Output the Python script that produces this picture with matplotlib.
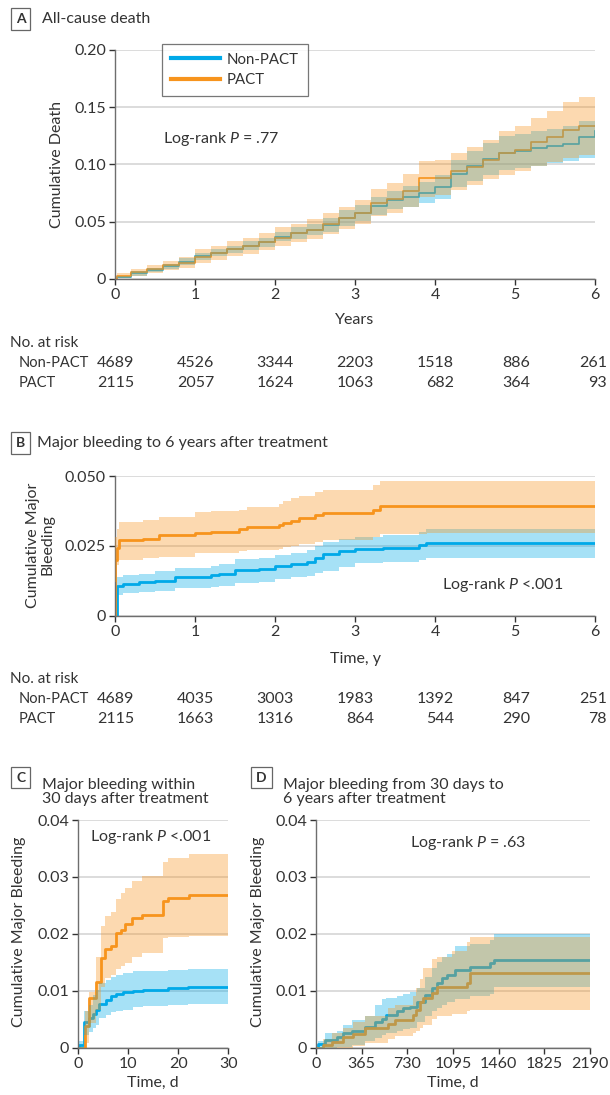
import matplotlib.pyplot as plt
import numpy as np

plt.rcParams['font.family'] = ['Lato', 'DejaVu Sans']
plt.rcParams['mathtext.fontset'] = 'custom'
plt.rcParams['mathtext.rm'] = 'Lato'
plt.rcParams['mathtext.it'] = 'Lato:italic'

W, H = 610, 1095
BLUE = '#00a9e8'
ORANGE = '#f7941d'
TXT = '#333333'
SPINE = '#6e6e6e'
FS = 11.5

# ---- Panel A: all-cause death (years) ----
years_a = [0, 0.02, 0.2, 0.4, 0.6, 0.8, 1.0, 1.2, 1.4, 1.6, 1.8, 2.0, 2.2, 2.4, 2.6, 2.8,
           3.0, 3.2, 3.4, 3.6, 3.8, 4.0, 4.2, 4.4, 4.6, 4.8, 5.0, 5.2, 5.4, 5.6, 5.8, 6.0]
a_np = [0, 0.002, 0.005, 0.008, 0.011, 0.015, 0.020, 0.023, 0.026, 0.029, 0.032, 0.037, 0.040, 0.043, 0.047, 0.053,
        0.058, 0.064, 0.069, 0.072, 0.075, 0.080, 0.092, 0.099, 0.105, 0.110, 0.112, 0.114, 0.116, 0.118, 0.124, 0.129]
a_np_lo = [0, 0.001, 0.003, 0.006, 0.009, 0.012, 0.017, 0.020, 0.023, 0.025, 0.028, 0.033, 0.035, 0.038, 0.041, 0.046,
           0.051, 0.056, 0.061, 0.063, 0.066, 0.070, 0.080, 0.086, 0.091, 0.095, 0.097, 0.099, 0.101, 0.103, 0.106, 0.110]
a_np_hi = [0, 0.003, 0.007, 0.010, 0.013, 0.018, 0.023, 0.026, 0.029, 0.033, 0.036, 0.041, 0.045, 0.048, 0.053, 0.060,
           0.065, 0.072, 0.077, 0.081, 0.085, 0.091, 0.104, 0.112, 0.119, 0.125, 0.127, 0.129, 0.131, 0.134, 0.138, 0.148]
a_pa = [0, 0.003, 0.006, 0.009, 0.012, 0.014, 0.019, 0.023, 0.026, 0.029, 0.032, 0.036, 0.040, 0.043, 0.048, 0.053,
        0.058, 0.066, 0.070, 0.077, 0.088, 0.088, 0.094, 0.098, 0.104, 0.110, 0.113, 0.120, 0.124, 0.130, 0.134, 0.134]
a_pa_lo = [0, 0.001, 0.003, 0.005, 0.008, 0.010, 0.014, 0.017, 0.020, 0.022, 0.025, 0.029, 0.032, 0.035, 0.039, 0.044,
           0.048, 0.055, 0.058, 0.063, 0.072, 0.073, 0.078, 0.082, 0.087, 0.091, 0.094, 0.099, 0.102, 0.106, 0.108, 0.107]
a_pa_hi = [0, 0.005, 0.009, 0.012, 0.016, 0.019, 0.026, 0.029, 0.033, 0.036, 0.040, 0.045, 0.048, 0.052, 0.058, 0.063,
           0.069, 0.079, 0.084, 0.092, 0.103, 0.104, 0.110, 0.115, 0.121, 0.129, 0.134, 0.141, 0.147, 0.155, 0.159, 0.159]
risk_a_np = [4689, 4526, 3344, 2203, 1518, 886, 261]
risk_a_pa = [2115, 2057, 1624, 1063, 682, 364, 93]

# ---- Panel B: major bleeding to 6 years ----
years_b_np = [0, 0.02, 0.1, 0.3, 0.5, 0.75, 1.2, 1.3, 1.5, 1.8, 2.0, 2.2, 2.4, 2.5, 2.6, 2.8, 3.0, 3.35, 3.8, 3.89, 6.0]
b_np = [0, 0.0106, 0.0115, 0.012, 0.0125, 0.014, 0.0145, 0.015, 0.0165, 0.0168, 0.0177, 0.0185, 0.0193, 0.0205,
        0.022, 0.023, 0.0237, 0.0244, 0.0252, 0.026, 0.026]
b_np_lo = [0, 0.0075, 0.008, 0.0085, 0.009, 0.0098, 0.0102, 0.0107, 0.0118, 0.012, 0.013, 0.0137, 0.0143, 0.0152,
           0.016, 0.0175, 0.0187, 0.0192, 0.0198, 0.0205, 0.0205]
b_np_hi = [0, 0.0138, 0.0145, 0.015, 0.016, 0.0172, 0.0178, 0.0185, 0.0203, 0.0207, 0.0217, 0.0225, 0.0235, 0.025,
           0.0264, 0.0275, 0.028, 0.0288, 0.0298, 0.0312, 0.0312]
years_b_pa = [0, 0.005, 0.02, 0.05, 0.35, 0.55, 1.0, 1.2, 1.55, 1.65, 2.05, 2.1, 2.2, 2.3, 2.5, 2.6, 3.23, 3.31, 3.9, 6.0]
b_pa = [0, 0.02, 0.0244, 0.027, 0.0276, 0.0288, 0.0296, 0.030, 0.031, 0.0318, 0.0326, 0.0333, 0.034, 0.035,
        0.036, 0.0368, 0.0377, 0.0393, 0.0393, 0.0393]
b_pa_lo = [0, 0.012, 0.018, 0.020, 0.0205, 0.021, 0.0223, 0.0225, 0.0233, 0.0235, 0.024, 0.0245, 0.0249, 0.0255,
           0.0264, 0.027, 0.028, 0.0293, 0.0296, 0.0296]
b_pa_hi = [0, 0.028, 0.031, 0.0336, 0.0344, 0.0354, 0.0371, 0.0373, 0.0377, 0.039, 0.040, 0.041, 0.042, 0.043,
           0.0443, 0.045, 0.0467, 0.0482, 0.0482, 0.0482]
risk_b_np = [4689, 4035, 3003, 1983, 1392, 847, 251]
risk_b_pa = [2115, 1663, 1316, 864, 544, 290, 78]

# ---- Panel C: within 30 days ----
days_c_np = [0, 0.2, 1.13, 2.2, 3.0, 3.5, 4.2, 5.5, 6.5, 7.5, 9.0, 11.0, 13.0, 18.0, 22.0, 30.0]
c_np = [0, 0.0004, 0.0046, 0.0053, 0.006, 0.0066, 0.0076, 0.0083, 0.009, 0.0094, 0.0097, 0.0100, 0.0101,
        0.0104, 0.0107, 0.0107]
c_np_lo = [0, 0, 0.0022, 0.0028, 0.0034, 0.0040, 0.0052, 0.0057, 0.0063, 0.0065, 0.0067, 0.0072, 0.0073,
           0.0075, 0.0077, 0.0077]
c_np_hi = [0, 0.0012, 0.0065, 0.0075, 0.0092, 0.0101, 0.0113, 0.0119, 0.0125, 0.0128, 0.0131, 0.0134, 0.0135,
           0.0137, 0.0138, 0.0138]
days_c_pa = [0, 1.33, 2.2, 3.47, 4.47, 5.33, 6.53, 7.53, 8.47, 9.33, 10.67, 12.67, 16.87, 17.87, 22.2, 30.0]
c_pa = [0, 0.0038, 0.0087, 0.0115, 0.0158, 0.0174, 0.0179, 0.0201, 0.0207, 0.0217, 0.0228, 0.0233, 0.0257,
        0.0263, 0.0269, 0.0269]
c_pa_lo = [0, 0.0008, 0.0043, 0.0066, 0.0107, 0.0122, 0.0128, 0.0138, 0.0143, 0.0148, 0.0160, 0.0167, 0.0192,
           0.0194, 0.0196, 0.0196]
c_pa_hi = [0, 0.0065, 0.0098, 0.0160, 0.0214, 0.0232, 0.0238, 0.0261, 0.0272, 0.0280, 0.0292, 0.0301, 0.0327,
           0.0333, 0.0340, 0.0340]

# ---- Panel D: 30 days to 6 years ----
days_d_np = [0, 16, 72, 165, 218, 285, 392, 472, 525, 560, 645, 698, 751, 805, 871, 925, 965, 1004, 1044,
             1111, 1231, 1391, 1425, 2190]
d_np = [0, 0.0007, 0.0013, 0.0018, 0.0025, 0.0030, 0.0036, 0.0045, 0.0051, 0.0057, 0.0064, 0.0069, 0.0072,
        0.0081, 0.0092, 0.0104, 0.0114, 0.0122, 0.0128, 0.0136, 0.0141, 0.0148, 0.0154, 0.0154]
d_np_lo = [0, 0, 0, 0.0001, 0.0002, 0.0005, 0.0012, 0.0017, 0.0022, 0.0025, 0.0030, 0.0033, 0.0035, 0.0045,
           0.0055, 0.0065, 0.0070, 0.0075, 0.0080, 0.0085, 0.0090, 0.0095, 0.0107, 0.0107]
d_np_hi = [0, 0.0012, 0.0025, 0.0030, 0.0040, 0.0048, 0.0055, 0.0075, 0.0085, 0.0088, 0.0090, 0.0095, 0.0098,
           0.0105, 0.0125, 0.0140, 0.0150, 0.0160, 0.0165, 0.0178, 0.0183, 0.0190, 0.0200, 0.0200]
days_d_pa = [0, 59, 125, 218, 298, 392, 578, 631, 778, 800, 831, 858, 925, 965, 1091, 1204, 1231, 2190]
d_pa = [0, 0.0005, 0.0010, 0.0019, 0.0024, 0.0035, 0.0042, 0.0049, 0.0057, 0.0066, 0.0081, 0.0088, 0.0096,
        0.0106, 0.0106, 0.0114, 0.0132, 0.0132]
d_pa_lo = [0, 0, 0, 0, 0.0003, 0.0008, 0.0015, 0.0020, 0.0025, 0.0030, 0.0035, 0.0040, 0.0050, 0.0055,
           0.0060, 0.0065, 0.0067, 0.0067]
d_pa_hi = [0, 0.0015, 0.0025, 0.0035, 0.0045, 0.0055, 0.0070, 0.0075, 0.0090, 0.0105, 0.0120, 0.0140, 0.0155,
           0.0160, 0.0170, 0.0185, 0.0195, 0.0195]

fig = plt.figure(figsize=(W / 100, H / 100), dpi=100)


def fx(x):
    return x / W


def fy(y):
    return 1 - y / H


def make_ax(x0, y0, x1, y1):
    ax = fig.add_axes([fx(x0), fy(y1), (x1 - x0) / W, (y1 - y0) / H])
    for s in ['top', 'right']:
        ax.spines[s].set_visible(False)
    for s in ['left', 'bottom']:
        ax.spines[s].set_color(SPINE)
        ax.spines[s].set_linewidth(1.0)
    ax.grid(axis='y', color='#d9d9d9', linewidth=1.3)
    ax.set_axisbelow(True)
    ax.tick_params(length=4.5, width=1.0, color='#333333', labelsize=FS, labelcolor=TXT, pad=2)
    return ax


def km(ax, t, est, lo, hi, color, zband, lw):
    ax.plot(t, est, drawstyle='steps-post', color=color, linewidth=lw, zorder=2)
    ax.fill_between(t, lo, hi, step='post', color=color, alpha=0.35, linewidth=0, zorder=zband)


def header(x, y, letter, text, tx):
    fig.text(fx(x), fy(y), letter, fontsize=10, fontweight='bold', color=TXT, ha='center', va='center',
             bbox=dict(boxstyle='square,pad=0.35', fc='white', ec='#666666', lw=0.9))
    fig.text(fx(tx), fy(y), text, fontsize=11.5, color=TXT, ha='left', va='top' if '\n' in text else 'center',
             linespacing=1.0)


def risk_table(y0, np_vals, pa_vals):
    right_x = [134, 214, 294, 374, 454, 530, 607]
    fig.text(fx(10), fy(y0), 'No. at risk', fontsize=11, color=TXT, va='center')
    fig.text(fx(19), fy(y0 + 20), 'Non-PACT', fontsize=10.5, color=TXT, va='center')
    fig.text(fx(19), fy(y0 + 40), 'PACT', fontsize=10.5, color=TXT, va='center')
    for xr, a, b in zip(right_x, np_vals, pa_vals):
        fig.text(fx(xr), fy(y0 + 20), str(a), fontsize=FS, color=TXT, ha='right', va='center')
        fig.text(fx(xr), fy(y0 + 40), str(b), fontsize=FS, color=TXT, ha='right', va='center')


# ---------- Panel A ----------
header(20.5, 19, 'A', 'All-cause death', 42)
axA = make_ax(115, 50, 595, 279)
km(axA, years_a, a_np, a_np_lo, a_np_hi, BLUE, 3, 1.2)
km(axA, years_a, a_pa, a_pa_lo, a_pa_hi, ORANGE, 4, 1.2)
axA.set_xlim(0, 6)
axA.set_ylim(0, 0.2)
axA.set_xticks(range(7))
axA.set_yticks([0, 0.05, 0.10, 0.15, 0.20])
axA.set_yticklabels(['0', '0.05', '0.10', '0.15', '0.20'])
fig.text(fx(57), fy(164), 'Cumulative Death', rotation=90, fontsize=FS, color=TXT, ha='center', va='center')
fig.text(fx(355), fy(320), 'Years', fontsize=FS, color=TXT, ha='center', va='center')
fig.text(fx(163), fy(139), 'Log-rank $P$ = .77', fontsize=FS, color=TXT, ha='left', va='center')
handles = [plt.Line2D([], [], color=BLUE, lw=3), plt.Line2D([], [], color=ORANGE, lw=3)]
leg = fig.legend(handles, ['Non-PACT', 'PACT'], loc='upper left', bbox_to_anchor=(fx(162), fy(43.5)),
                 frameon=True, fancybox=False, edgecolor='#555555', fontsize=10.8, handlelength=3.3,
                 borderpad=0.6, labelspacing=0.45, handletextpad=0.4, borderaxespad=0)
leg.get_frame().set_linewidth(0.9)
for t in leg.get_texts():
    t.set_color(TXT)
risk_table(343, risk_a_np, risk_a_pa)

# ---------- Panel B ----------
header(20.5, 443, 'B', 'Major bleeding to 6 years after treatment', 37)
axB = make_ax(115, 476, 595, 615.7)
km(axB, years_b_np, b_np, b_np_lo, b_np_hi, BLUE, 3, 2.0)
km(axB, years_b_pa, b_pa, b_pa_lo, b_pa_hi, ORANGE, 4, 2.0)
axB.set_xlim(0, 6)
axB.set_ylim(0, 0.05)
axB.set_xticks(range(7))
axB.set_yticks([0, 0.025, 0.05])
axB.set_yticklabels(['0', '0.025', '0.050'])
fig.text(fx(40), fy(545), 'Cumulative Major\nBleeding', rotation=90, fontsize=FS, color=TXT,
         ha='center', va='center', linespacing=1.05)
fig.text(fx(355), fy(659), 'Time, y', fontsize=FS, color=TXT, ha='center', va='center')
fig.text(fx(442), fy(585), 'Log-rank $P$ <.001', fontsize=FS, color=TXT, ha='left', va='center')
risk_table(679, risk_b_np, risk_b_pa)

# ---------- Panel C ----------
header(20.8, 777.5, 'C', 'Major bleeding within\n30 days after treatment', 41.7)
axC = make_ax(78.3, 820, 228.3, 1047.7)
km(axC, days_c_np, c_np, c_np_lo, c_np_hi, BLUE, 3, 2.0)
km(axC, days_c_pa, c_pa, c_pa_lo, c_pa_hi, ORANGE, 4, 2.0)
axC.set_xlim(0, 30)
axC.set_ylim(0, 0.04)
axC.set_xticks([0, 10, 20, 30])
axC.set_yticks([0, 0.01, 0.02, 0.03, 0.04])
axC.set_yticklabels(['0', '0.01', '0.02', '0.03', '0.04'])
fig.text(fx(19.5), fy(932), 'Cumulative Major Bleeding', rotation=90, fontsize=FS, color=TXT,
         ha='center', va='center')
fig.text(fx(153), fy(1083), 'Time, d', fontsize=FS, color=TXT, ha='center', va='center')
fig.text(fx(90), fy(837), 'Log-rank $P$ <.001', fontsize=FS, color=TXT, ha='left', va='center')

# ---------- Panel D ----------
header(261.5, 777.5, 'D', 'Major bleeding from 30 days to\n6 years after treatment', 282.7)
axD = make_ax(316, 820, 590, 1047.7)
km(axD, days_d_np, d_np, d_np_lo, d_np_hi, BLUE, 3, 2.0)
km(axD, days_d_pa, d_pa, d_pa_lo, d_pa_hi, ORANGE, 4, 2.0)
axD.set_xlim(0, 2190)
axD.set_ylim(0, 0.04)
axD.set_xticks([0, 365, 730, 1095, 1460, 1825, 2190])
axD.set_yticks([0, 0.01, 0.02, 0.03, 0.04])
axD.set_yticklabels(['0', '0.01', '0.02', '0.03', '0.04'])
fig.text(fx(258), fy(932), 'Cumulative Major Bleeding', rotation=90, fontsize=FS, color=TXT,
         ha='center', va='center')
fig.text(fx(453), fy(1083), 'Time, d', fontsize=FS, color=TXT, ha='center', va='center')
fig.text(fx(410), fy(843), 'Log-rank $P$ = .63', fontsize=FS, color=TXT, ha='left', va='center')

fig.savefig('out.png', dpi=100)
